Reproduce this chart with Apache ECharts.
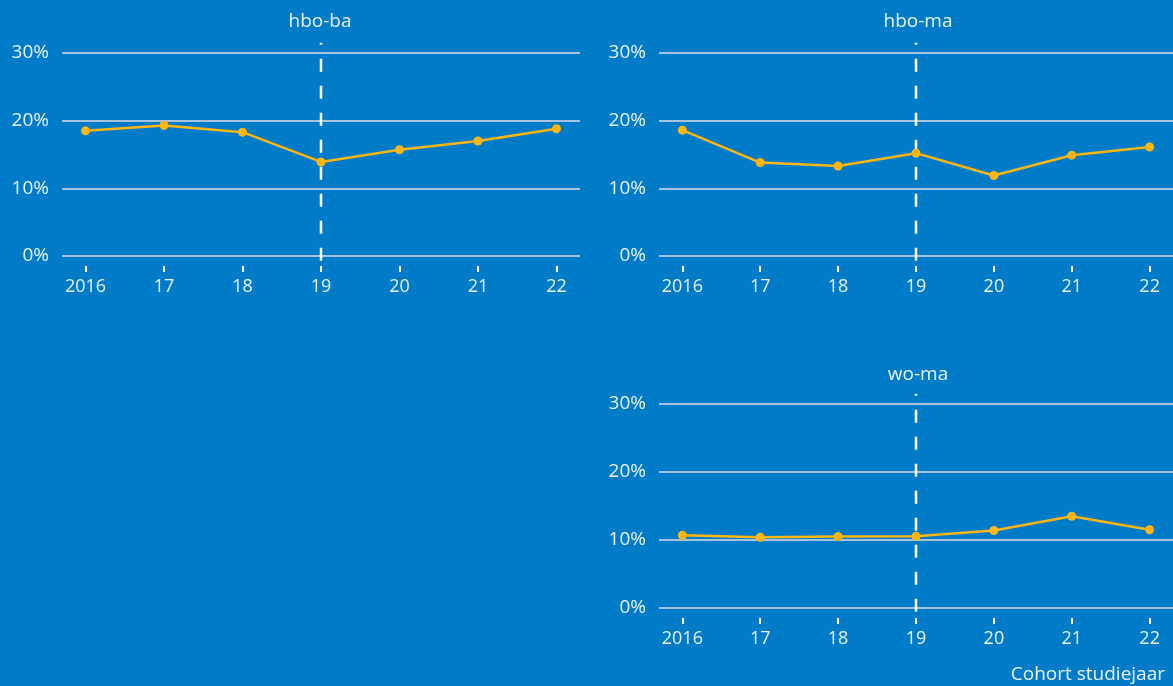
<!DOCTYPE html>
<html>
<head>
<meta charset="utf-8">
<script src="https://cdn.jsdelivr.net/npm/echarts@6/dist/echarts.min.js"></script>
<style>
html,body{margin:0;padding:0;background:#007BC7;}
#chart{width:1173px;height:686px;}
</style>
</head>
<body>
<div id="chart"></div>
<script>
const years = [2016, 2017, 2018, 2019, 2020, 2021, 2022];
const yTicks = [0, 10, 20, 30];
const panelTitles = ['hbo-ba', 'hbo-ma', 'wo-ma'];
const hboBa = [18.5, 19.3, 18.3, 13.9, 15.7, 17.0, 18.8];
const hboMa = [18.6, 13.8, 13.3, 15.2, 11.9, 14.9, 16.1];
const woMa  = [10.7, 10.4, 10.5, 10.55, 11.4, 13.5, 11.5];
const refYear = 2019;
const refSpan = [31.5, -2.5];
const xAxisTitle = 'Cohort studiejaar';

const FONT = '"Open Sans", sans-serif';
const TXT = '#EAF2FA';
const GRIDC = '#A6C2DC';
const LINEC = '#FFB612';

const grids = [
  {left: 62, top: 53, width: 518, height: 203},
  {left: 659, top: 53, width: 518, height: 203},
  {left: 659, top: 404, width: 518, height: 204}
];
const seriesData = [hboBa, hboMa, woMa];

const xAxes = grids.map((g, i) => ({
  type: 'value', gridIndex: i, min: 2015.7, max: 2022.3,
  offset: 10,
  axisLine: {show: false, onZero: false},
  splitLine: {show: false},
  axisTick: {show: true, length: 6, customValues: years, lineStyle: {color: '#FFFFFF', width: 2}},
  axisLabel: {customValues: years, margin: 12, color: TXT, fontSize: 18, fontFamily: FONT,
    formatter: v => v === years[0] ? String(v) : String(v).slice(2)}
}));
const yAxes = grids.map((g, i) => ({
  type: 'value', gridIndex: i, min: yTicks[0], max: yTicks[yTicks.length - 1], interval: 10,
  axisLine: {show: false}, axisTick: {show: false},
  splitLine: {show: true, lineStyle: {color: GRIDC, width: 2}},
  axisLabel: {margin: 13, color: TXT, fontSize: 19, fontFamily: FONT, formatter: '{value}%'}
}));

const series = [];
seriesData.forEach((d, i) => {
  series.push({
    type: 'line', xAxisIndex: i, yAxisIndex: i, clip: false, silent: true,
    data: [[refYear, refSpan[0]], [refYear, refSpan[1]]],
    symbol: 'none', z: 2,
    lineStyle: {color: '#FFFFFF', width: 2.5, type: [13, 14], dashOffset: 11}
  });
  series.push({
    type: 'line', xAxisIndex: i, yAxisIndex: i, z: 3,
    data: years.map((y, k) => [y, d[k]]),
    symbol: 'circle', symbolSize: 9,
    itemStyle: {color: LINEC},
    lineStyle: {color: LINEC, width: 2.5}
  });
});

const titleCenters = [[320, 22], [918, 22], [918, 375]];
const graphic = panelTitles.map((t, i) => ({
  type: 'text', x: titleCenters[i][0], y: titleCenters[i][1],
  style: {text: t, fill: TXT, font: '19px ' + FONT, textAlign: 'center', textVerticalAlign: 'middle'}
}));
graphic.push({
  type: 'text', x: 1165, y: 675,
  style: {text: xAxisTitle, fill: TXT, font: '19px ' + FONT, textAlign: 'right', textVerticalAlign: 'middle'}
});

const chart = echarts.init(document.getElementById('chart'));
chart.setOption({
  backgroundColor: '#007BC7',
  animation: false,
  grid: grids,
  xAxis: xAxes,
  yAxis: yAxes,
  series: series,
  graphic: graphic
});
</script>
</body>
</html>
